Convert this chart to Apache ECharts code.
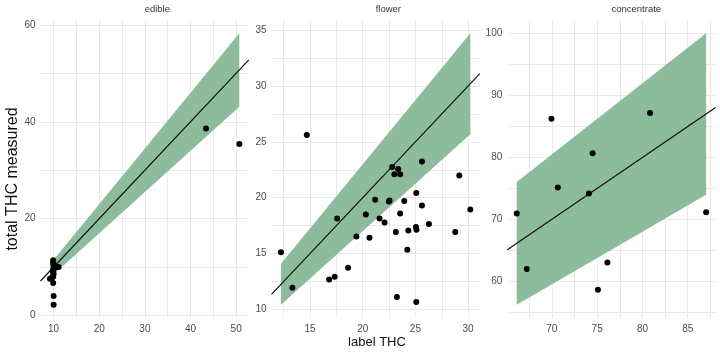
<!DOCTYPE html>
<html>
<head>
<meta charset="utf-8">
<script src="https://cdn.jsdelivr.net/npm/echarts@6/dist/echarts.min.js"></script>
<style>
html,body{margin:0;padding:0;background:#fff;}
#chart{width:720px;height:356px;}
</style>
</head>
<body>
<div id="chart"></div>
<script>
// ---------------- data ----------------
const panelNames = ['edible', 'flower', 'concentrate'];

const edibleLabel    = [9.2, 9.7, 9.9, 9.9, 10.0, 10.0, 10.1, 9.8, 10.0, 9.9, 10.6, 11.1, 9.9, 10.0, 10.0, 43.4, 50.7];
const edibleMeasured = [7.6, 7.9, 11.4, 11.0, 10.6, 10.2, 9.7, 9.2, 8.6, 6.7, 10.1, 10.0, 8.0, 4.0, 2.2, 38.6, 35.4];

const flowerLabel    = [12.24, 13.32, 14.69, 16.81, 17.34, 17.57, 18.61, 19.40, 20.29, 20.64, 21.18, 21.59, 22.07, 22.48, 22.54, 22.79, 23.00, 23.14, 23.24, 23.36, 23.55, 23.55, 23.94, 24.23, 24.33, 25.08, 25.05, 25.10, 25.08, 25.62, 25.62, 26.28, 28.78, 29.16, 30.21];
const flowerMeasured = [15.11, 11.92, 25.62, 12.67, 12.92, 18.13, 13.73, 16.53, 18.49, 16.41, 19.81, 18.13, 17.77, 19.66, 19.75, 22.76, 22.10, 16.92, 11.11, 22.56, 22.10, 18.58, 19.70, 15.33, 17.07, 20.42, 17.37, 17.12, 10.66, 23.24, 19.30, 17.64, 16.92, 21.98, 18.94];

const concentrateLabel    = [66.13, 67.23, 69.96, 70.66, 74.09, 74.50, 75.09, 76.13, 80.84, 87.03];
const concentrateMeasured = [70.95, 62.00, 86.25, 75.14, 74.17, 80.67, 58.66, 63.06, 87.17, 71.17];

// shaded band (lower / upper edge at the two ends of each panel's label range)
const edibleBandX       = [9.2, 50.7];
const edibleBandLow     = [7.8, 43.1];
const edibleBandHigh    = [10.6, 58.3];
const flowerBandX       = [12.24, 30.21];
const flowerBandLow     = [10.40, 25.68];
const flowerBandHigh    = [14.08, 34.74];
const concentrateBandX    = [66.13, 87.03];
const concentrateBandLow  = [56.21, 73.98];
const concentrateBandHigh = [76.05, 100.08];

// reference line measured = label
const refIntercept = 0;
const refSlope = 1;

// tick labels
const edibleXTicks = [10, 20, 30, 40, 50];
const edibleYTicks = [0, 20, 40, 60];
const flowerXTicks = [15, 20, 25, 30];
const flowerYTicks = [10, 15, 20, 25, 30, 35];
const concentrateXTicks = [70, 75, 80, 85];
const concentrateYTicks = [60, 70, 80, 90, 100];

// ---------------- layout / style ----------------
const panels = [
  {x: edibleLabel, y: edibleMeasured, bx: edibleBandX, lo: edibleBandLow, hi: edibleBandHigh, xt: edibleXTicks, yt: edibleYTicks},
  {x: flowerLabel, y: flowerMeasured, bx: flowerBandX, lo: flowerBandLow, hi: flowerBandHigh, xt: flowerXTicks, yt: flowerYTicks},
  {x: concentrateLabel, y: concentrateMeasured, bx: concentrateBandX, lo: concentrateBandLow, hi: concentrateBandHigh, xt: concentrateXTicks, yt: concentrateYTicks}
];
const gridLefts = [40.5, 271.5, 507.3];
const gridWidth = 208.3;
const gridTop = 19.6;
const gridHeight = 298.8;
const bandColor = '#8dbc9c';
const gridColor = '#e9e9e9';
const tickColor = '#4d4d4d';
const font = 'Liberation Sans, Arial, sans-serif';

function expandRange(vals) {
  const mn = Math.min.apply(null, vals), mx = Math.max.apply(null, vals);
  const pad = (mx - mn) * 0.05;
  return [mn - pad, mx + pad];
}
function withMinor(major, range) {
  const step = major[1] - major[0];
  const out = [];
  for (let v = major[0] - step; v <= range[1] + 1e-9; v += step / 2) {
    if (v >= range[0] - 1e-9) out.push(+v.toFixed(6));
  }
  return out;
}

const grids = [], xAxes = [], yAxes = [], series = [], graphics = [];
panels.forEach(function (p, i) {
  const xr = expandRange(p.x.concat(p.bx));
  const yr = expandRange(p.y.concat(p.lo, p.hi));
  grids.push({left: gridLefts[i], top: gridTop, width: gridWidth, height: gridHeight, containLabel: false});
  const common = {
    type: 'value', gridIndex: i,
    axisLine: {show: false},
    splitLine: {show: true, lineStyle: {color: gridColor, width: 1}}
  };
  xAxes.push(Object.assign({}, common, {
    min: xr[0], max: xr[1],
    axisTick: {show: false, customValues: withMinor(p.xt, xr)},
    axisLabel: {customValues: p.xt, color: tickColor, fontSize: 10, margin: 6, fontFamily: font}
  }));
  yAxes.push(Object.assign({}, common, {
    min: yr[0], max: yr[1],
    axisTick: {show: false, customValues: withMinor(p.yt, yr)},
    axisLabel: {customValues: p.yt, color: tickColor, fontSize: 10, margin: 5, fontFamily: font}
  }));
  // band
  series.push({
    type: 'custom', xAxisIndex: i, yAxisIndex: i, z: 1, silent: true,
    data: p.bx.map(function (x, j) { return [x, p.lo[j], p.hi[j]]; }),
    encode: {x: 0, y: [1, 2]},
    renderItem: function (params, api) {
      if (params.dataIndex !== 0) return null;
      const pts = [];
      for (let j = 0; j < p.bx.length; j++) pts.push(api.coord([p.bx[j], p.hi[j]]));
      for (let j = p.bx.length - 1; j >= 0; j--) pts.push(api.coord([p.bx[j], p.lo[j]]));
      return {type: 'polygon', shape: {points: pts}, style: {fill: bandColor}};
    }
  });
  // reference line across the panel
  series.push({
    type: 'line', xAxisIndex: i, yAxisIndex: i, z: 2, silent: true,
    symbol: 'none',
    data: [[xr[0], refIntercept + refSlope * xr[0]], [xr[1], refIntercept + refSlope * xr[1]]],
    lineStyle: {color: '#111', width: 1.2}
  });
  // points
  series.push({
    type: 'scatter', xAxisIndex: i, yAxisIndex: i, z: 3, silent: true,
    symbolSize: 6,
    itemStyle: {color: '#000', opacity: 1},
    data: p.x.map(function (x, j) { return [x, p.y[j]]; })
  });
  graphics.push({
    type: 'text', left: gridLefts[i] + gridWidth / 2, top: 4,
    style: {text: panelNames[i], fontSize: 9.5, fill: '#333', align: 'center', fontFamily: font}
  });
});

graphics.push({
  type: 'text', x: 5, y: 179, rotation: Math.PI / 2,
  style: {text: 'total THC measured', fontSize: 16, fill: '#111', align: 'center', verticalAlign: 'top', fontFamily: font}
});
graphics.push({
  type: 'text', x: 377, y: 336,
  style: {text: 'label THC', fontSize: 13, fill: '#111', align: 'center', verticalAlign: 'top', fontFamily: font}
});

const chart = echarts.init(document.getElementById('chart'), null, {renderer: 'canvas'});
chart.setOption({
  animation: false,
  backgroundColor: '#fff',
  grid: grids,
  xAxis: xAxes,
  yAxis: yAxes,
  series: series,
  graphic: graphics
});
</script>
</body>
</html>
